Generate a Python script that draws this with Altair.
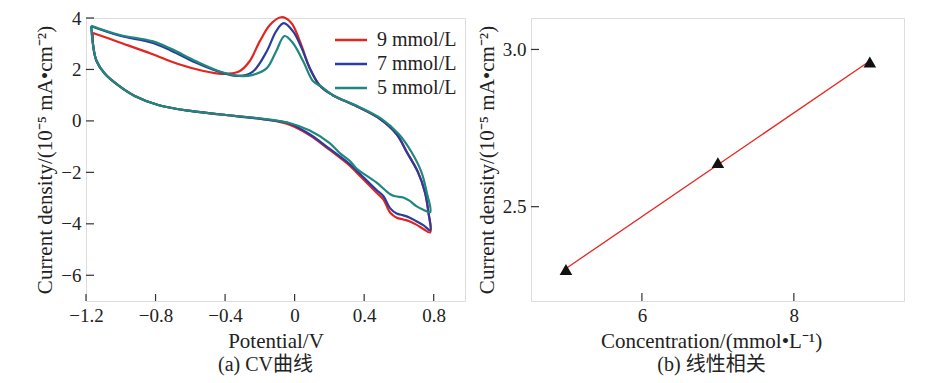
import altair as alt
import pandas as pd

# ---------------- data: (a) CV curves ----------------
series_names = ["9 mmol/L", "7 mmol/L", "5 mmol/L"]
series_colors = ["#e3241f", "#2b3c9c", "#1f877d"]

V_9 = [-1.16, -1.01, -0.82, -0.67, -0.53, -0.42, -0.32, -0.26, -0.20, -0.14, -0.077, -0.02, 0.03, 0.087, 0.144, 0.22, 0.356, 0.49, 0.587, 0.645, 0.71, 0.75, 0.77, 0.78,
       0.74, 0.70, 0.66, 0.625, 0.587, 0.55, 0.51, 0.47, 0.356, 0.317, 0.2, 0.087, -0.03, -0.14, -0.42, -0.59, -0.78, -0.92, -1.01, -1.09, -1.14, -1.16, -1.16]
J_9 = [3.42, 3.06, 2.60, 2.21, 1.95, 1.83, 1.92, 2.31, 3.10, 3.75, 4.03, 3.82, 3.10, 2.05, 1.38, 1.00, 0.57, 0.08, -0.52, -1.20, -2.00, -2.78, -3.57, -4.33,
       -4.20, -4.03, -3.90, -3.83, -3.76, -3.57, -3.05, -2.78, -2.00, -1.74, -1.12, -0.56, -0.15, 0.03, 0.25, 0.38, 0.61, 0.97, 1.36, 1.82, 2.34, 2.99, 3.42]

V_7 = [-1.17, -1.01, -0.82, -0.71, -0.57, -0.42, -0.32, -0.24, -0.16, -0.106, -0.063, -0.01, 0.04, 0.087, 0.144, 0.22, 0.356, 0.49, 0.587, 0.645, 0.71, 0.75, 0.77, 0.78,
       0.74, 0.70, 0.66, 0.625, 0.587, 0.55, 0.51, 0.47, 0.356, 0.317, 0.2, 0.087, -0.03, -0.14, -0.42, -0.59, -0.78, -0.92, -1.01, -1.09, -1.14, -1.16, -1.17]
J_7 = [3.68, 3.32, 3.04, 2.73, 2.27, 1.88, 1.75, 1.92, 2.71, 3.49, 3.80, 3.49, 2.84, 2.05, 1.38, 1.00, 0.57, 0.08, -0.52, -1.22, -2.00, -2.78, -3.57, -4.25,
       -4.05, -3.90, -3.75, -3.67, -3.60, -3.40, -2.92, -2.68, -1.93, -1.68, -1.08, -0.52, -0.10, 0.03, 0.25, 0.38, 0.61, 0.97, 1.36, 1.82, 2.34, 2.99, 3.68]

V_5 = [-1.17, -1.01, -0.82, -0.71, -0.57, -0.42, -0.32, -0.24, -0.16, -0.106, -0.058, -0.01, 0.05, 0.105, 0.15, 0.22, 0.36, 0.50, 0.60, 0.673, 0.73, 0.76, 0.78,
       0.74, 0.70, 0.66, 0.625, 0.58, 0.55, 0.47, 0.356, 0.317, 0.26, 0.2, 0.087, -0.03, -0.14, -0.42, -0.59, -0.78, -0.92, -1.01, -1.09, -1.14, -1.16, -1.17]
J_5 = [3.70, 3.35, 3.10, 2.80, 2.33, 1.90, 1.75, 1.79, 2.05, 2.71, 3.30, 3.03, 2.31, 1.55, 1.35, 1.00, 0.58, 0.08, -0.52, -1.22, -2.00, -2.78, -3.55,
       -3.45, -3.31, -3.10, -2.98, -2.93, -2.85, -2.39, -1.85, -1.55, -1.25, -0.85, -0.37, -0.08, 0.05, 0.25, 0.38, 0.61, 0.97, 1.36, 1.82, 2.34, 2.99, 3.70]

cv_x_ticks = [-1.2, -0.8, -0.4, 0, 0.4, 0.8]
cv_y_ticks = [-6, -4, -2, 0, 2, 4]

# ---------------- data: (b) linear correlation ----------------
conc = [5, 7, 9]
peak_current = [2.30, 2.64, 2.96]
lin_x_ticks = [6, 8]
lin_y_ticks = [2.5, 3.0]

# ---------------- build tables ----------------
rows = []
for name, vs, js in zip(series_names, [V_9, V_7, V_5], [J_9, J_7, J_5]):
    for i, (v, j) in enumerate(zip(vs, js)):
        rows.append({"V": v, "J": j, "series": name, "idx": i})
cv_df = pd.DataFrame(rows)
lin_df = pd.DataFrame({"C": conc, "I": peak_current})

SERIF = "'Liberation Serif', 'Times New Roman', 'Noto Sans CJK SC', serif"
TICK_FS = 19
TITLE_FS = 21
AXC = "#222"
FRAME = "#333"

W1, H1 = 379, 283
W2, H2 = 373, 283

ytitle = "Current density/(10⁻⁵ mA•cm⁻²)"

def ax(title, values, fmt, **kw):
    return alt.Axis(title=title, values=values, format=fmt, tickSize=0, domain=False, grid=False,
                    labelFont=SERIF, labelFontSize=TICK_FS, labelColor=AXC, labelPadding=5,
                    labelFlush=False, labelOverlap=False,
                    titleFont=SERIF, titleFontSize=TITLE_FS, titleFontWeight="normal", titleColor=AXC,
                    titlePadding=5, **kw)

# ---- panel (a)
xa = alt.X("V:Q", scale=alt.Scale(domain=[-1.2, 0.98], nice=False, zero=False),
           axis=ax("Potential/V", cv_x_ticks, ".1~f"))
ya = alt.Y("J:Q", scale=alt.Scale(domain=[-7, 4], nice=False, zero=False),
           axis=ax(ytitle, cv_y_ticks, "d"))

lines = alt.Chart(cv_df).mark_line(strokeWidth=2.2, interpolate="catmull-rom").encode(
    x=xa, y=ya,
    color=alt.Color("series:N", scale=alt.Scale(domain=series_names, range=series_colors),
                    legend=alt.Legend(title=None, orient="none", legendX=255, legendY=12,
                                      symbolType="M-2,0L2,0", symbolSize=256, symbolStrokeWidth=2.5,
                                      labelFont=SERIF, labelFontSize=20, labelColor=AXC,
                                      labelOffset=16, rowPadding=4)),
    order="idx:Q",
)
xt_a = alt.Chart(pd.DataFrame({"V": cv_x_ticks})).mark_rule(color=FRAME, strokeWidth=1.2).encode(
    x=xa, y=alt.value(H1), y2=alt.value(H1 - 7))
yt_a = alt.Chart(pd.DataFrame({"J": cv_y_ticks})).mark_rule(color=FRAME, strokeWidth=1.2).encode(
    y=ya, x=alt.value(0), x2=alt.value(8))

panel_a = alt.layer(lines, xt_a, yt_a).properties(
    width=W1, height=H1,
    title=alt.TitleParams("(a) CV曲线", orient="bottom", font=SERIF, fontSize=20,
                          fontWeight="normal", color=AXC, offset=4, frame="group", dx=-10),
)

# ---- panel (b)
xb = alt.X("C:Q", scale=alt.Scale(domain=[4.54, 9.45], nice=False, zero=False),
           axis=ax("Concentration/(mmol•L⁻¹)", lin_x_ticks, "d", titleX=180, titleAnchor="middle"))
yb = alt.Y("I:Q", scale=alt.Scale(domain=[2.2, 3.1], nice=False, zero=False),
           axis=ax(ytitle, lin_y_ticks, ".1f"))

fit = alt.Chart(lin_df).transform_regression("C", "I").mark_line(
    color="#e8251f", strokeWidth=1.3).encode(x=xb, y=yb)
pts = alt.Chart(lin_df).mark_point(shape="triangle-up", filled=True, color="#111", size=160,
                                   opacity=1).encode(x=xb, y=yb)
xt_b = alt.Chart(pd.DataFrame({"C": lin_x_ticks})).mark_rule(color=FRAME, strokeWidth=1.2).encode(
    x=xb, y=alt.value(H2), y2=alt.value(H2 - 8))
yt_b = alt.Chart(pd.DataFrame({"I": lin_y_ticks})).mark_rule(color=FRAME, strokeWidth=1.2).encode(
    y=yb, x=alt.value(0), x2=alt.value(8))

panel_b = alt.layer(fit, pts, xt_b, yt_b).properties(
    width=W2, height=H2,
    title=alt.TitleParams("(b) 线性相关", orient="bottom", font=SERIF, fontSize=20,
                          fontWeight="normal", color=AXC, offset=4, frame="group", dx=-6),
)

chart = alt.hconcat(panel_a, panel_b, spacing=9).properties(
    padding={"left": 26, "top": 0, "right": 5, "bottom": 0}
).configure_view(stroke=FRAME, strokeWidth=1.4).configure(background="white")

chart.save("out.html", embed_options={"renderer": "svg", "actions": False})
